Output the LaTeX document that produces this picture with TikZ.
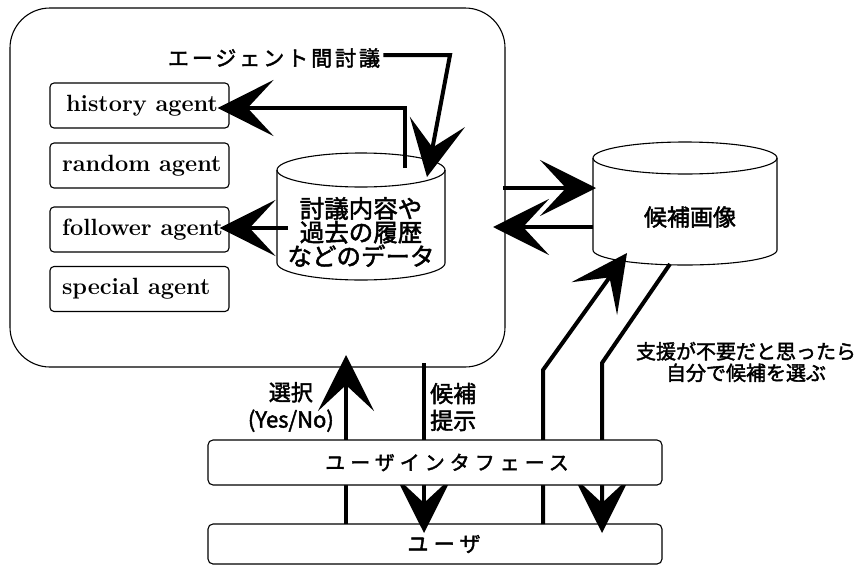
\documentclass[tikz,border=0pt]{standalone}
\usepackage{fontspec}
\usetikzlibrary{arrows.meta}
\newfontfamily\jp[FakeBold=2]{Noto Sans CJK JP}
\newfontfamily\jpsp[FakeBold=2,LetterSpace=25]{Noto Sans CJK JP}
\newfontfamily\jpls[FakeBold=2,LetterSpace=14]{Noto Sans CJK JP}
\newcommand\agtxt[1]{\makebox[155pt][l]{#1}}
\tikzset{
  agentbox/.style={draw, line width=1.1pt, rounded corners=4pt, minimum height=45pt,
    inner xsep=12pt, anchor=center,
    font=\fontsize{23.5}{26}\selectfont\bfseries},
  uibox/.style={draw, line width=1.1pt, rounded corners=5pt, fill=white,
    minimum width=454pt, anchor=center},
  conn/.style={line width=4pt},
  bigtip/.style={-{Stealth[length=56pt,width=56pt,inset=26pt]}},
  lbl/.style={inner sep=0pt, align=center},
}
\begin{document}
\begin{tikzpicture}[x=1pt,y=-1pt]
\useasboundingbox (0,0) rectangle (861,565);
% main container
\node[draw, line width=1.1pt, rounded corners=40pt, minimum width=495pt, minimum height=359pt] (main) at (257.5,187.5) {};
% agents
\node[agentbox] (hist) at (139.5,105.5) {\agtxt{\hspace*{4pt}history agent}};
\node[agentbox] (rand) at (139.5,165.5) {\agtxt{random agent}};
\node[agentbox] (foll) at (139.5,229.5) {\agtxt{follower agent}};
\node[agentbox] (spec) at (139.5,289) {\agtxt{special agent}};
% cylinder 1
\draw[line width=1.1pt, fill=white] (277,170) -- (277,263) arc[start angle=180, end angle=0, x radius=84, y radius=17] -- (445,170);
\draw[line width=1.1pt] (361,170) ellipse [x radius=84, y radius=17];
\node[lbl, font=\fontsize{24.5}{22.5}\selectfont\jp] (data) at (361,232) {討議内容や\\過去の履歴\\などのデータ};
% cylinder 2
\draw[line width=1.1pt, fill=white] (593,158) -- (593,250) arc[start angle=180, end angle=0, x radius=92, y radius=15] -- (777,158);
\draw[line width=1.1pt] (685,158) ellipse [x radius=92, y radius=16];
\node[lbl, font=\fontsize{23}{26}\selectfont\jp] (cand) at (690,217) {候補画像};
% discussion label and arrow
\node[lbl, font=\fontsize{21}{24}\selectfont\jpls] (disc) at (274,58) {エージェント間討議};
\coordinate (d1) at (450,55);
\coordinate (d2) at (427,177);
\draw[conn, bigtip] ([xshift=3pt]disc.east |- d1) -- (d1) -- (d2);
% history arrow
\coordinate (h0) at (405,168);
\coordinate (h1) at (405,108);
\draw[conn, bigtip] (h0) -- (h1) -- ([xshift=-12pt]hist.east |- h1);
% follower arrow
\coordinate (f0) at (288,228);
\draw[conn, bigtip] (f0) -- ([xshift=-10pt]foll.east |- f0);
% between cylinders
\coordinate (r0) at (503,188);
\coordinate (r1) at (596,188);
\coordinate (l0) at (593,227);
\coordinate (l1) at (493,227);
\draw[conn, bigtip] (r0) -- (r1);
\draw[conn, bigtip] (l0) -- (l1);
% user box
\node[uibox, minimum height=40pt] (user) at (435,544) {};
\node[lbl, font=\fontsize{21}{24}\selectfont\jpsp] at ([xshift=9pt]user.center) {ユーザ};
% vertical connectors
\coordinate (u1) at (346,524);
\coordinate (u2) at (346,355);
\draw[conn, bigtip] (u1) -- (u2);
\coordinate (p1) at (424,363);
\coordinate (p2) at (424,533);
\draw[conn, bigtip] (p1) -- (p2);
\coordinate (a1) at (543,524);
\coordinate (a2) at (543,370);
\coordinate (a3) at (627,253);
\draw[conn, bigtip] (a1) -- (a2) -- (a3);
\coordinate (b1) at (670,264);
\coordinate (b2) at (602,363);
\coordinate (b3) at (602,533);
\draw[conn, bigtip] (b1) -- (b2) -- (b3);
% UI box on top
\node[uibox, minimum height=45pt] (ui) at (435,462.5) {};
\node[lbl, font=\fontsize{20}{24}\selectfont\jpsp] at ([xshift=12pt]ui.center) {ユーザインタフェース};
% labels
\node[lbl, anchor=east, align=center, font=\fontsize{22}{27}\selectfont\jp] (sel) at (334,407) {選択\\(Yes/No)};
\node[lbl, anchor=west, align=left, font=\fontsize{23}{27}\selectfont\jp] (pres) at (430,407) {候補\\提示};
\node[lbl, font=\fontsize{20}{21.5}\selectfont\jp] (note) at (746,362) {支援が不要だと思ったら\\自分で候補を選ぶ};
\end{tikzpicture}
\end{document}
